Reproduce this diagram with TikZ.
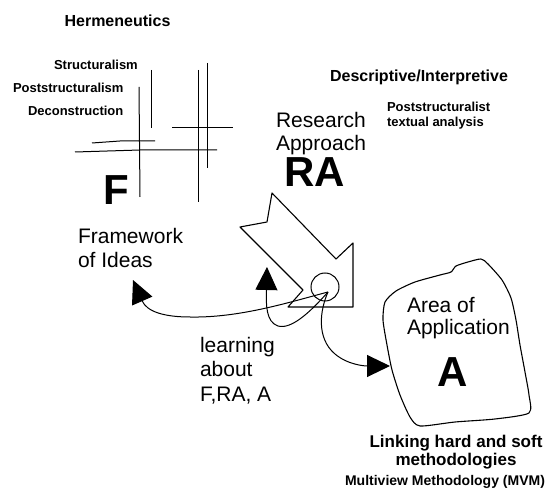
\documentclass[tikz,border=0pt]{standalone}
\usepackage{fontspec}
\setmainfont{Liberation Sans}
\usetikzlibrary{arrows.meta}
\begin{document}
\begin{tikzpicture}[x=1pt,y=-1pt,
  every node/.style={inner sep=0pt, outer sep=0pt},
  ink/.style={line width=1.1pt, line join=round},
  gridline/.style={line width=1pt},
  smalllbl/.style={font=\bfseries\fontsize{13}{15}\selectfont},
  midlbl/.style={font=\bfseries\fontsize{16}{19}\selectfont},
  biglbl/.style={align=left},
  letter/.style={font=\bfseries\fontsize{42}{42}\selectfont},
  link/.style={line width=1pt, -{Triangle[length=23pt,width=22pt]}},
]
\useasboundingbox (0,0) rectangle (547,494);

% framework of ideas: labels and crossing lines
\node[midlbl, anchor=north] (herm) at (117.5,15) {Hermeneutics};
\node[smalllbl, anchor=north west] (struct) at (54,60) {Structuralism};
\node[smalllbl, anchor=north west] (poststruct) at (13,83) {Poststructuralism};
\node[smalllbl, anchor=north west] (decon) at (28,106) {Deconstruction};

\draw[gridline] (139,87) -- (140,197);
\draw[gridline] (151,70) -- (151,128);
\draw[gridline] (198,70) -- (198,202);
\draw[gridline] (207,63) -- (207,168);
\draw[gridline] (92,143) -- (120,141) -- (155,141);
\draw[gridline] (75,152) -- (140,150) -- (217,150);
\draw[gridline] (172,128) -- (233,128);

\node[letter, anchor=north] (F) at (116,176) {F};
\node[biglbl, anchor=north west, font=\fontsize{21}{24}\selectfont] (fw) at (78,228) {Framework\\of Ideas};

% research approach
\node[midlbl, anchor=north] (desc) at (419,70) {Descriptive/Interpretive};
\node[smalllbl, anchor=north west, align=left] (pta) at (387,102) {Poststructuralist\\textual analysis};
\node[align=center, anchor=north, font=\fontsize{21}{23}\selectfont] (ra) at (321,112) {Research\\Approach};
\node[letter, anchor=north] (RA) at (315,158) {RA};

\draw[ink] (272,193) -- (267,222) -- (240,227) -- (303,290) -- (288,307)
  -- (353,307) -- (353,243) -- (336,259) -- cycle;

\node[draw, circle, minimum size=28pt, line width=1pt] (hub) at (325,287) {};
\coordinate (hubc) at (328,292);

% area of application
\draw[ink] plot[smooth cycle, tension=0.4] coordinates {
  (468,262) (481,259) (488,264) (502,280) (511,298) (516,320) (520,345)
  (525,372) (529,395) (529,413) (495,419) (455,422) (420,426) (410,417)
  (400,395) (392,370) (387,345) (383,320) (385,302) (396,291) (415,282)
  (440,275) (451,272) (456,266)};
\node[biglbl, anchor=north west, font=\fontsize{21}{22.5}\selectfont] (area) at (407,297) {Area of\\Application};
\node[letter, anchor=north] (A) at (453,358) {A};

\node[align=center, anchor=north, font=\bfseries\fontsize{17}{18}\selectfont] (linking) at (456,435) {Linking hard and soft\\methodologies};
\node[anchor=north, font=\bfseries\fontsize{14}{16}\selectfont] (mvm) at (445,475) {Multiview Methodology (MVM)};

% learning loops
\node[biglbl, anchor=north west, font=\fontsize{21}{24.5}\selectfont] (learn) at (200,337) {learning\\about\\F,RA, A};

\coordinate (tipF) at (133,280);
\coordinate (tipRA) at (267,267);
\coordinate (tipA) at (390,366);

\draw[link] (hubc) .. controls (290,302) and (240,318) .. (190,317)
  .. controls (165,317) and (147,312) .. (tipF);
\draw[link] (hubc) .. controls (312,310) and (292,330) .. (278,326)
  .. controls (266,322) and (266,305) .. (tipRA);
\draw[link] (hubc) .. controls (320,310) and (316,338) .. (335,354)
  .. controls (348,365) and (365,366) .. (tipA);
\end{tikzpicture}
\end{document}
